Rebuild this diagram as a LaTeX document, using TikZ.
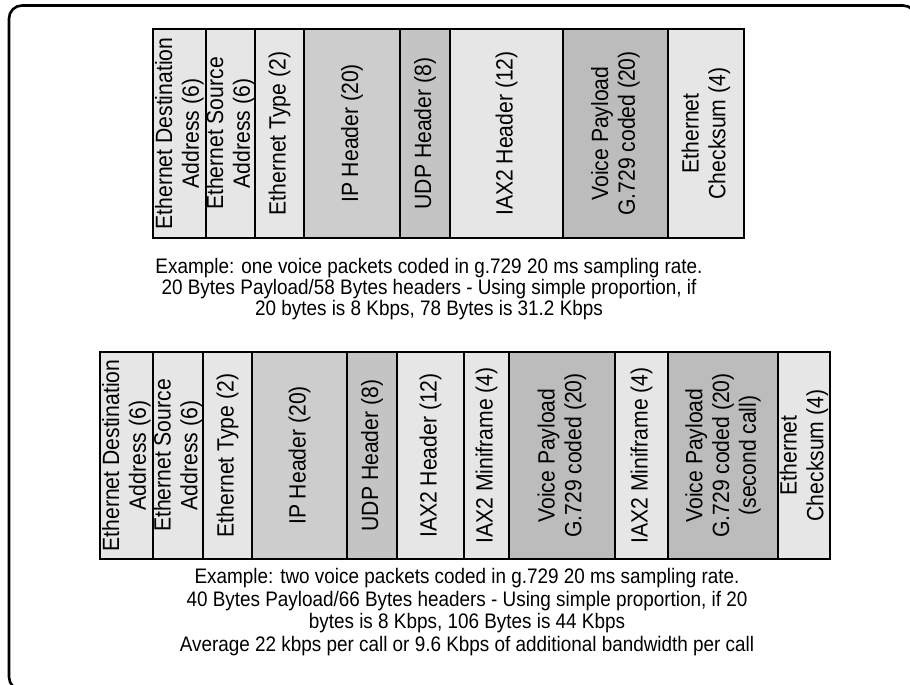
\documentclass[tikz,border=0pt]{standalone}
\usepackage{fontspec}
\setmainfont{Liberation Sans}
\newfontfamily\capfont[FakeStretch=0.9]{Liberation Sans}
\definecolor{lightbox}{HTML}{E6E6E6}
\definecolor{ipbox}{HTML}{CDCDCD}
\definecolor{udpbox}{HTML}{C4C4C4}
\definecolor{voicebox}{HTML}{BCBCBC}
\newcommand\pfield[7]{%
  \node[field, fill=#6, minimum width={#5-#4}, minimum height={#3-#2}]
    (#1) at ({(#2+#3)/2},{(#4+#5)/2}) {#7};}
\begin{document}
\begin{tikzpicture}[x=1pt,y=-1pt,
  field/.style={draw=black, line width=2pt, rotate=90, inner sep=0pt,
    align=center, font=\capfont\fontsize{23.5}{26.7}\selectfont},
  caption/.style={inner sep=0pt, align=center, font=\capfont\fontsize{21}{21}\selectfont},
  frame/.style={draw=black, line width=2.6pt, rounded corners=13pt}]
\useasboundingbox (0,0) rectangle (910,685);
\clip (0,0) rectangle (910,685);
\draw[frame] (9,5.5) rectangle (916,690);
% top packet
\pfield{ta}{153}{206}{29}{238}{lightbox}{Ethernet Destination\\Address (6)}
\pfield{tb}{206}{255}{29}{238}{lightbox}{Ethernet Source\\Address (6)}
\pfield{tc}{255}{304}{29}{238}{lightbox}{Ethernet Type (2)}
\pfield{td}{304}{400}{29}{238}{ipbox}{IP Header (20)}
\pfield{te}{400}{450}{29}{238}{udpbox}{UDP Header (8)}
\pfield{tf}{450}{563}{29}{238}{lightbox}{IAX2 Header (12)}
\pfield{tg}{563}{668}{29}{238}{voicebox}{Voice Payload\\G.729 coded (20)}
\pfield{th}{668}{744}{29}{238}{lightbox}{Ethernet\\Checksum (4)}
\node[caption] (cap1) at (429,289) {Example: one voice packets coded in g.729 20 ms sampling rate.\\
20 Bytes Payload/58 Bytes headers - Using simple proportion, if\\
20 bytes is 8 Kbps, 78 Bytes is 31.2 Kbps};
% bottom packet
\pfield{ba}{100}{153}{352}{559}{lightbox}{Ethernet Destination\\Address (6)}
\pfield{bb}{153}{203}{352}{559}{lightbox}{Ethernet Source\\Address (6)}
\pfield{bc}{203}{252}{352}{559}{lightbox}{Ethernet Type (2)}
\pfield{bd}{252}{347}{352}{559}{ipbox}{IP Header (20)}
\pfield{be}{347}{397}{352}{559}{udpbox}{UDP Header (8)}
\pfield{bf}{397}{464}{352}{559}{lightbox}{IAX2 Header (12)}
\pfield{bg}{464}{509}{352}{559}{lightbox}{IAX2 Miniframe (4)}
\pfield{bh}{509}{615}{352}{559}{voicebox}{Voice Payload\\G.729 coded (20)}
\pfield{bi}{615}{668}{352}{559}{lightbox}{IAX2 Miniframe (4)}
\pfield{bj}{668}{778}{352}{559}{voicebox}{Voice Payload\\G.729 coded (20)\\(second call)}
\pfield{bk}{778}{830}{352}{559}{lightbox}{Ethernet\\Checksum (4)}
\node[caption, font=\capfont\fontsize{21}{22.7}\selectfont] (cap2) at (467,612) {Example: two voice packets coded in g.729 20 ms sampling rate.\\
40 Bytes Payload/66 Bytes headers - Using simple proportion, if 20\\
bytes is 8 Kbps, 106 Bytes is 44 Kbps\\
Average 22 kbps per call or 9.6 Kbps of additional bandwidth per call};
\end{tikzpicture}
\end{document}
